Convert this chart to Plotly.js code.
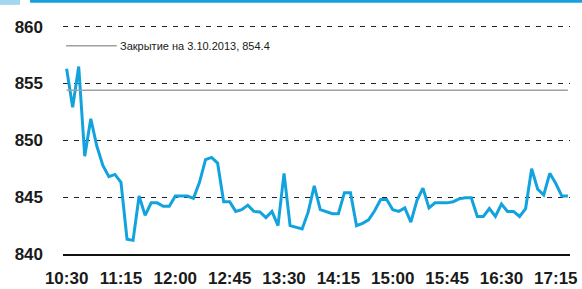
<!DOCTYPE html>
<html>
<head>
<meta charset="utf-8">
<script src="https://cdn.plot.ly/plotly-3.0.1.min.js"></script>
<style>
html,body{margin:0;padding:0;background:#fff;}
#chart{width:582px;height:289px;}
</style>
</head>
<body>
<div id="chart"></div>
<script>
// 5-minute intraday grid, 10:30 .. 17:25
var startTime = "10:30";
var pointCount = 84;
var tickLabels = ["10:30","11:15","12:00","12:45","13:30","14:15","15:00","15:45","16:30","17:15"];
var yTicks = [840, 845, 850, 855, 860];

var prices = [
  856.3, 852.9, 856.5, 848.6, 851.9, 849.5, 847.8, 846.8, 847.0, 846.3,
  841.3, 841.2, 845.1, 843.4, 844.5, 844.5, 844.2, 844.2, 845.1, 845.1,
  845.1, 844.9, 846.3, 848.3, 848.5, 848.0, 844.6, 844.6, 843.75, 843.9,
  844.3, 843.75, 843.7, 843.2, 843.75, 842.5, 847.1, 842.5, 842.35, 842.2,
  843.7, 846.0, 843.9, 843.7, 843.55, 843.55, 845.4, 845.4, 842.5, 842.7,
  843.0, 843.8, 844.8, 844.8, 843.9, 843.75, 844.05, 842.8, 844.7, 845.8,
  844.05, 844.5, 844.5, 844.5, 844.6, 844.85, 844.95, 844.95, 843.3, 843.3,
  844.0, 843.3, 844.4, 843.75, 843.75, 843.3, 844.0, 847.5, 845.7, 845.2,
  847.1, 846.2, 845.1, 845.1
];

var closeValue = 854.4;
var closeLabel = "Закрытие на 3.10.2013, 854.4";

// build time categories
var times = [];
(function(){
  var p = startTime.split(":");
  var m = parseInt(p[0],10)*60 + parseInt(p[1],10);
  for (var i = 0; i < pointCount; i++) {
    var t = m + 5*i;
    var hh = Math.floor(t/60), mm = t % 60;
    times.push(hh + ":" + (mm < 10 ? "0" : "") + mm);
  }
})();

var tickFont = {family: "Liberation Sans, Arial, sans-serif", size: 17, color: "#1a1a1a", weight: "bold"};

var traces = [
  {
    x: times, y: prices,
    type: "scatter", mode: "lines",
    line: {color: "#12a3df", width: 3},
    showlegend: false
  },
  {
    x: [times[0], times[times.length-1]],
    y: [closeValue, closeValue],
    type: "scatter", mode: "lines",
    line: {color: "#a0a0a0", width: 1.5},
    hoverinfo: "skip", showlegend: false
  }
];

var layout = {
  width: 582, height: 289,
  margin: {l: 63, r: 12, t: 25, b: 35},
  paper_bgcolor: "#ffffff", plot_bgcolor: "#ffffff",
  showlegend: false,
  xaxis: {
    type: "category",
    categoryorder: "array", categoryarray: times,
    range: [-0.6, 83.35],
    tickmode: "array", tickvals: tickLabels, ticktext: tickLabels,
    showgrid: false, zeroline: false,
    showline: true, linecolor: "#111111", linewidth: 1.5,
    ticks: "", ticklabelstandoff: 8,
    tickfont: tickFont
  },
  yaxis: {
    range: [840, 860.15],
    tickmode: "array", tickvals: yTicks,
    showgrid: true, gridcolor: "#222222", gridwidth: 1.1, griddash: "5px,6px",
    zeroline: false, showline: false,
    ticks: "", ticklabelstandoff: 19,
    tickfont: tickFont
  },
  shapes: [
    {type: "rect", xref: "paper", yref: "paper", x0: -0.1243, x1: -0.0848, y0: 1.088, y1: 1.115,
     fillcolor: "#a3d6ef", line: {width: 0}},
    {type: "rect", xref: "paper", yref: "paper", x0: -0.065, x1: 1.03, y0: 1.097, y1: 1.115,
     fillcolor: "#14a0dc", line: {width: 0}},
    {type: "line", xref: "paper", yref: "paper", x0: 0.006, x1: 0.106, y0: 0.909, y1: 0.909,
     line: {color: "#a0a0a0", width: 1.5}}
  ],
  annotations: [
    {xref: "paper", yref: "paper", x: 0.108, y: 0.909, xanchor: "left", yanchor: "middle",
     showarrow: false, text: closeLabel,
     font: {family: "Liberation Sans Narrow, Arial Narrow, Liberation Sans, sans-serif", size: 11, color: "#1a1a1a"}}
  ]
};

Plotly.newPlot("chart", traces, layout, {displayModeBar: false, staticPlot: true});
</script>
</body>
</html>
